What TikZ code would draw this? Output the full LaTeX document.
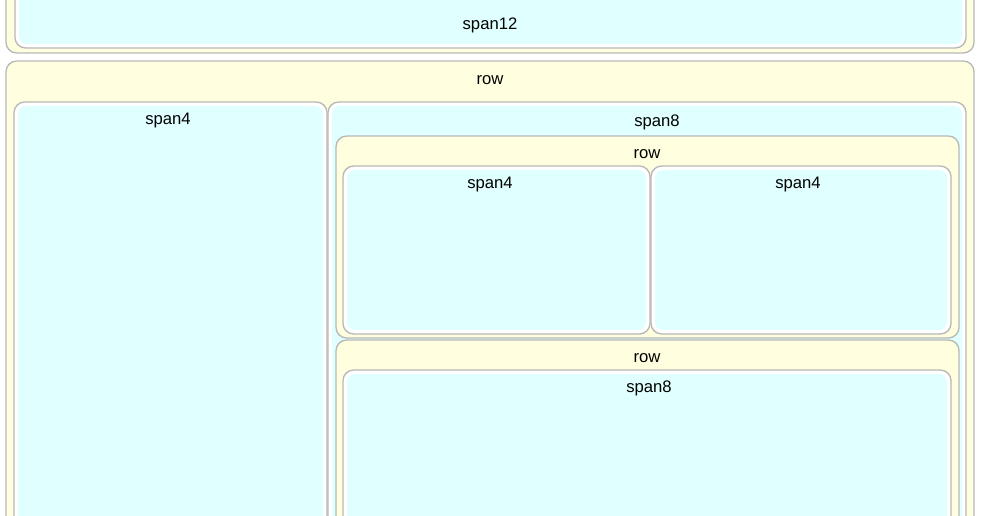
\documentclass[tikz,border=0pt]{standalone}
\usepackage{fontspec}
\setmainfont{Liberation Sans}
\definecolor{rowc}{HTML}{FFFFE0}
\definecolor{spanc}{HTML}{E0FFFF}
\definecolor{bord}{HTML}{B8B8B8}
\tikzset{
  rowbox/.style={draw=bord, line width=1pt, fill=rowc, rounded corners=8pt},
  spanout/.style={draw=bord, line width=1pt, fill=white, rounded corners=8pt},
  spanin/.style={fill=spanc, rounded corners=6pt},
  lbl/.style={font=\fontsize{12.5pt}{14pt}\selectfont, text=black}
}
\newcommand\myspan[4]{%
  \draw[spanout] (#1,#2) rectangle (#3,#4);
  \fill[spanin] (#1+4,#2+4) rectangle (#3-4,#4-4);}
\begin{document}
\begin{tikzpicture}[x=0.75pt,y=-0.75pt]
\useasboundingbox (0,0) rectangle (982,515);
\begin{scope}
\clip (0,0) rectangle (982,515);
\draw[rowbox] (6,-20) rectangle (974,53);
\myspan{15}{-20}{966}{48}
\node[lbl] (t12) at (490,25) {span12};
\draw[rowbox] (6,61) rectangle (974,560);
\node[lbl] (r1) at (490,80) {row};
\myspan{14}{102}{327}{560}
\node[lbl] (s4l) at (168,120) {span4};
\myspan{328}{102}{966}{560}
\node[lbl] (s8) at (657,122) {span8};
\draw[rowbox] (336,136) rectangle (959,338);
\node[lbl] (r2) at (647,154) {row};
\myspan{343}{166}{650}{334}
\node[lbl] (s4a) at (490,184) {span4};
\myspan{651}{166}{951}{334}
\node[lbl] (s4b) at (798,184) {span4};
\draw[rowbox] (336,340) rectangle (959,560);
\node[lbl] (r3) at (647,358) {row};
\myspan{343}{370}{951}{560}
\node[lbl] (s8b) at (649,388) {span8};
\end{scope}
\end{tikzpicture}
\end{document}
